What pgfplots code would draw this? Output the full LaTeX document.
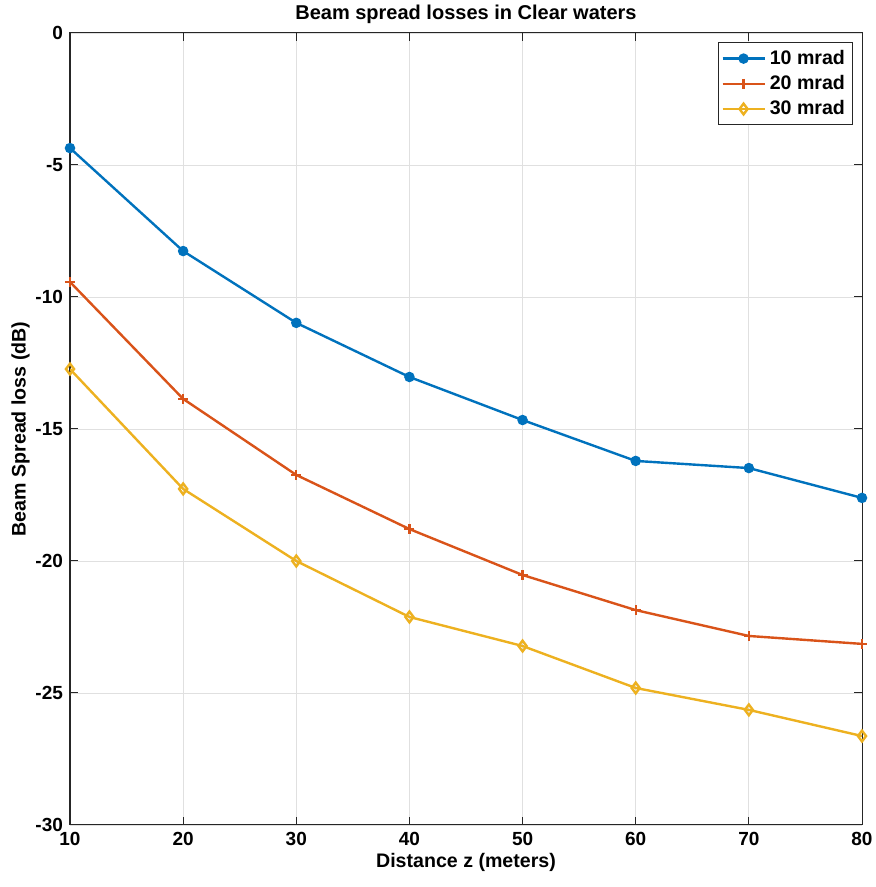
\documentclass[border=0pt]{standalone}
\usepackage{pgfplots}
\pgfplotsset{compat=1.18}
\usepackage{fontspec}
\setmainfont{Liberation Sans}
\definecolor{mblue}{RGB}{0,114,189}
\definecolor{mred}{RGB}{217,83,25}
\definecolor{myellow}{RGB}{237,177,32}
\definecolor{axgray}{RGB}{38,38,38}
\begin{document}
\begin{tikzpicture}
\begin{axis}[
  name=ax,
  scale only axis,
  width=396pt, height=396pt,
  xmin=10, xmax=80, ymin=-30, ymax=0,
  xtick={10,20,...,80},
  ytick={-30,-25,...,0},
  /pgf/number format/assume math mode=true,
  ticklabel style={font=\fontsize{9.5}{11}\selectfont\bfseries},
  label style={font=\fontsize{9.8}{11}\selectfont\bfseries},
  title style={font=\fontsize{10}{12}\selectfont\bfseries, yshift=-5pt},
  title={Beam spread losses in Clear waters},
  xlabel={Distance z (meters)},
  ylabel={Beam Spread loss (dB)},
  xlabel style={yshift=3pt},
  ylabel style={yshift=-4pt},
  grid=major,
  major grid style={draw=black!12, line width=0.4pt},
  axis line style={draw=axgray, line width=0.5pt},
  tick style={draw=axgray, line width=0.5pt},
  tick align=inside,
  major tick length=4pt,
  legend style={at={(0.988,0.988)}, anchor=north east, draw=axgray, line width=0.5pt,
    font=\fontsize{9.8}{11}\selectfont\bfseries, row sep=0pt, inner sep=1.5pt},
  legend cell align=left,
  legend image code/.code={
    \draw[line width=1.2pt, mark repeat=2,mark phase=2] plot coordinates {(0cm,0cm) (0.37cm,0cm) (0.74cm,0cm)};},
  every axis plot/.append style={line width=1.2pt},
]
\addplot[mblue, mark=*, mark size=2pt] coordinates {
(10,-4.36) (20,-8.26) (30,-10.98) (40,-13.03) (50,-14.66) (60,-16.21) (70,-16.48) (80,-17.61)};
\addlegendentry{10 mrad}
\addplot[mred, mark=+, mark size=2.5pt] coordinates {
(10,-9.43) (20,-13.86) (30,-16.74) (40,-18.79) (50,-20.53) (60,-21.86) (70,-22.84) (80,-23.14)};
\addlegendentry{20 mrad}
\addplot[myellow, mark=diamond, mark size=2.7pt] coordinates {
(10,-12.73) (20,-17.27) (30,-20.0) (40,-22.12) (50,-23.22) (60,-24.81) (70,-25.64) (80,-26.63)};
\addlegendentry{30 mrad}
\end{axis}
\pgfresetboundingbox
\path ([xshift=-35pt,yshift=-31pt]ax.south west) rectangle ([xshift=7pt,yshift=16.5pt]ax.north east);
\end{tikzpicture}
\end{document}
